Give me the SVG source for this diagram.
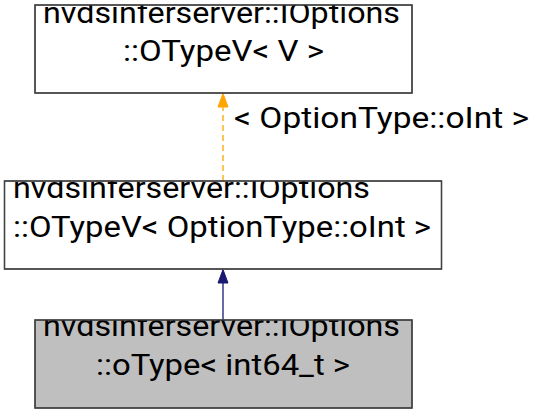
<svg xmlns="http://www.w3.org/2000/svg" width="535" height="413" viewBox="0 0 535 413">
<style>
.box{stroke:#404040;stroke-width:1.3}
.t{font-family:Roboto,"Liberation Sans",sans-serif;font-size:29px;fill:#000}
</style>
<defs>
<clipPath id="cTop"><rect x="35" y="5" width="377" height="88"/></clipPath>
<clipPath id="cMid"><rect x="4.5" y="181" width="437" height="88"/></clipPath>
<clipPath id="cBot"><rect x="35" y="320" width="377" height="88"/></clipPath>
</defs>
<rect width="535" height="413" fill="#fff"/>
<g id="connectors">
<path d="M223,181 L223,107" stroke="#ffa500" stroke-width="1.3" stroke-dasharray="6,4" fill="none"/>
<polygon points="223,93.5 228,107 218,107" fill="#ffa500" stroke="#ffa500"/>
<text class="t" x="234" y="128" textLength="295" lengthAdjust="spacingAndGlyphs">&lt; OptionType::oInt &gt;</text>
<path d="M223,320 L223,283" stroke="#191970" stroke-width="1.3" fill="none"/>
<polygon points="223,269.5 228,283 218,283" fill="#191970" stroke="#191970"/>
</g>
<g id="node_top">
<rect class="box" x="35" y="5" width="377" height="88" fill="#fff"/>
<g clip-path="url(#cTop)">
<text class="t" x="43" y="23" textLength="357" lengthAdjust="spacingAndGlyphs">nvdsinferserver::IOptions</text>
<text class="t" x="123" y="61" textLength="201" lengthAdjust="spacingAndGlyphs">::OTypeV&lt; V &gt;</text>
</g>
<rect class="box" x="35" y="5" width="377" height="88" fill="none"/>
</g>
<g id="node_mid">
<rect class="box" x="4.5" y="181" width="437" height="88" fill="#fff"/>
<g clip-path="url(#cMid)">
<text class="t" x="13" y="198" textLength="357" lengthAdjust="spacingAndGlyphs">nvdsinferserver::IOptions</text>
<text class="t" x="13" y="237" textLength="418" lengthAdjust="spacingAndGlyphs">::OTypeV&lt; OptionType::oInt &gt;</text>
</g>
<rect class="box" x="4.5" y="181" width="437" height="88" fill="none"/>
</g>
<g id="node_bottom">
<rect class="box" x="35" y="320" width="377" height="88" fill="#bfbfbf"/>
<g clip-path="url(#cBot)">
<text class="t" x="43" y="336" textLength="357" lengthAdjust="spacingAndGlyphs">nvdsinferserver::IOptions</text>
<text class="t" x="96" y="375" textLength="254" lengthAdjust="spacingAndGlyphs">::oType&lt; int64_t &gt;</text>
</g>
<rect class="box" x="35" y="320" width="377" height="88" fill="none"/>
</g>
</svg>
